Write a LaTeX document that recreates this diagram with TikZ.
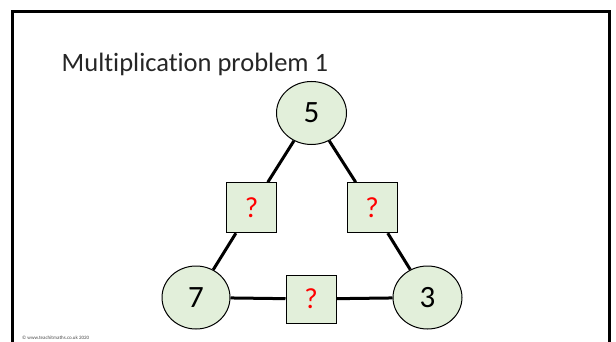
\documentclass[tikz,border=0pt]{standalone}
\usepackage{fontspec}
\setmainfont[RawFeature=-liga]{Carlito}
\usetikzlibrary{shapes.geometric}
\definecolor{nodefill}{HTML}{E2EFDA}
\definecolor{qred}{HTML}{FF0000}
\tikzset{
  numnode/.style={ellipse, draw=black, line width=1pt, fill=nodefill, minimum width=#1, minimum height=63pt, inner sep=0pt, font=\fontsize{31}{33}\selectfont},
  qbox/.style={rectangle, draw=black, line width=1pt, fill=nodefill, minimum width=50pt, minimum height=#1, inner sep=0pt, text=qred, font=\fontsize{29}{31}\selectfont},
  link/.style={line width=3pt, black},
  frame/.style={line width=3pt, black}
}
\begin{document}
\begin{tikzpicture}[x=1pt,y=-1pt]
\useasboundingbox (0,0) rectangle (616,342);
\fill[white] (0,0) rectangle (616,342);
\draw[frame] (12,346) -- (12,11.5) -- (609.5,11.5) -- (609.5,346);
\node[anchor=base west, inner sep=0pt, font=\fontsize{26.5}{30}\selectfont, text=black!85] (title) at (61.5,71.5) {Multiplication problem 1};
\node[numnode=70pt] (n5) at (311.5,113) {5};
\node[numnode=68pt] (n7) at (196,297.5) {7};
\node[numnode=69pt] (n3) at (427.5,297.5) {3};
\node[qbox=50pt] (qL) at (251.7,207.7) {?};
\node[qbox=50pt] (qR) at (372,207.7) {?};
\node[qbox=48pt] (qB) at (311,299) {?};
\draw[link] (n5) -- (qL);
\draw[link] (qL) -- (n7);
\draw[link] (n5) -- (qR);
\draw[link] (qR) -- (n3);
\draw[link] (n7) -- (qB);
\draw[link] (qB) -- (n3);
\node[anchor=base west, inner sep=0pt, font=\fontsize{5}{6}\selectfont, text=black!70] (copy) at (22,339.5) {© www.teachitmaths.co.uk 2020};
\end{tikzpicture}
\end{document}
